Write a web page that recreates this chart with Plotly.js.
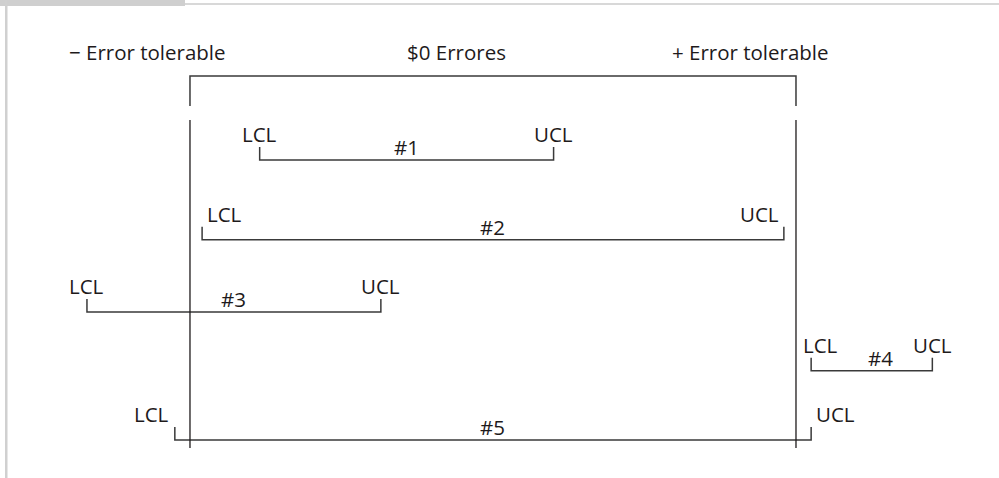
<!DOCTYPE html>
<html>
<head>
<meta charset="utf-8">
<script src="https://cdn.plot.ly/plotly-3.0.1.min.js"></script>
<style>html,body{margin:0;padding:0;background:#fff;}#chart{width:999px;height:478px;}</style>
</head>
<body>
<div id="chart"></div>
<script>
// Data: confidence intervals relative to tolerable error (±100 units), $0 errors = 0
const intervalNames = ["#1", "#2", "#3", "#4", "#5"];
const lclValues = [-77, -96, -134, 105, -105];
const uclValues = [20, 96, -37, 145, 105];
const rowLevel = [1, 2.14, 3.17, 4.01, 5];
const labelPlacement = ["center", "inside", "center", "shifted", "outside"];
const tolerableLow = -100;
const tolerableHigh = 100;
const headerLabels = ["\u2212 Error tolerable", "$0 Errores", "+ Error tolerable"];
const headerX = [-114, -12, 85];

const ink = "#1e1a1b";
const lineCol = "#3a3a3a";
const fontFam = "'Open Sans', 'Noto Sans', sans-serif";
const fs = 20.5;
const tickH = 0.186;

const traces = [];
const annotations = [];

for (let i = 0; i < intervalNames.length; i++) {
  const r = rowLevel[i];
  traces.push({
    type: "scatter", mode: "lines",
    x: [lclValues[i], lclValues[i], uclValues[i], uclValues[i]],
    y: [r - tickH, r, r, r - tickH],
    line: {color: lineCol, width: 1.5},
    hoverinfo: "skip", showlegend: false
  });
  let lAnchor = "center", uAnchor = "center", lShift = 0, uShift = 0, nShift = 0;
  if (labelPlacement[i] === "inside") { lAnchor = "left"; uAnchor = "right"; lShift = 3; uShift = -3; }
  if (labelPlacement[i] === "outside") { lAnchor = "right"; uAnchor = "left"; lShift = -4; uShift = 3; }
  if (labelPlacement[i] === "shifted") { lShift = 9; nShift = 9; }
  annotations.push({x: lclValues[i], y: r, xref: "x", yref: "y", text: "LCL", showarrow: false,
    xanchor: lAnchor, yanchor: "middle", xshift: lShift, yshift: 26, font: {family: fontFam, size: fs, color: ink}});
  annotations.push({x: uclValues[i], y: r, xref: "x", yref: "y", text: "UCL", showarrow: false,
    xanchor: uAnchor, yanchor: "middle", xshift: uShift, yshift: 26, font: {family: fontFam, size: fs, color: ink}});
  annotations.push({x: (lclValues[i] + uclValues[i]) / 2, y: r, xref: "x", yref: "y", text: intervalNames[i], showarrow: false,
    xanchor: "center", yanchor: "middle", xshift: nShift, yshift: 13, font: {family: fontFam, size: fs, color: ink}});
}

for (let j = 0; j < headerLabels.length; j++) {
  annotations.push({x: headerX[j], y: -0.543, xref: "x", yref: "y", text: headerLabels[j], showarrow: false,
    xanchor: "center", yanchor: "middle", font: {family: fontFam, size: fs, color: ink}});
}

// Tolerable error limits
traces.push({type: "scatter", mode: "lines",
  x: [tolerableLow, tolerableLow, tolerableHigh, tolerableHigh],
  y: [0.229, -0.2, -0.2, 0.229],
  line: {color: lineCol, width: 1.5}, hoverinfo: "skip", showlegend: false});
traces.push({type: "scatter", mode: "lines",
  x: [tolerableLow, tolerableLow], y: [0.429, 5.114],
  line: {color: ink, width: 1.3}, hoverinfo: "skip", showlegend: false});
traces.push({type: "scatter", mode: "lines",
  x: [tolerableHigh, tolerableHigh], y: [0.429, 5.114],
  line: {color: ink, width: 1.3}, hoverinfo: "skip", showlegend: false});

const shapes = [
  {type: "rect", xref: "paper", yref: "paper", x0: 0, x1: 185/999, y0: 1 - 6/478, y1: 1, fillcolor: "#cfcfcf", line: {width: 0}},
  {type: "rect", xref: "paper", yref: "paper", x0: 185/999, x1: 1, y0: 1 - 5/478, y1: 1 - 3/478, fillcolor: "#d8d8d8", line: {width: 0}},
  {type: "rect", xref: "paper", yref: "paper", x0: 5/999, x1: 7.5/999, y0: 0, y1: 1, fillcolor: "#d0d0d0", line: {width: 0}}
];

const layout = {
  width: 999, height: 478,
  margin: {l: 0, r: 0, t: 0, b: 0},
  paper_bgcolor: "#fff", plot_bgcolor: "#fff",
  xaxis: {range: [-162.7, 167.0], visible: false, fixedrange: true},
  yaxis: {range: [5.543, -1.286], visible: false, fixedrange: true},
  showlegend: false,
  annotations: annotations,
  shapes: shapes
};

Plotly.newPlot("chart", traces, layout, {staticPlot: true, displayModeBar: false});
</script>
</body>
</html>
